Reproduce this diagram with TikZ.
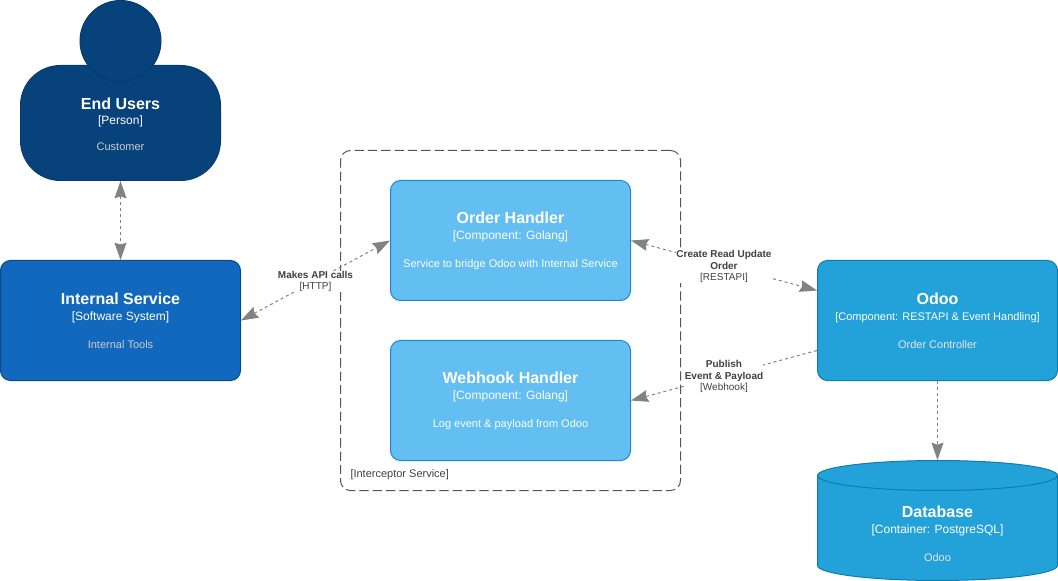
\documentclass[tikz,border=0pt]{standalone}
\usepackage{fontspec}
\setmainfont{Liberation Sans}
\usetikzlibrary{arrows.meta}
\usetikzlibrary{positioning}

\definecolor{personblue}{HTML}{08427B}
\definecolor{personline}{HTML}{073B6F}
\definecolor{systemblue}{HTML}{1168BD}
\definecolor{systemline}{HTML}{0B4884}
\definecolor{handlerblue}{HTML}{63BEF2}
\definecolor{handlerline}{HTML}{2086C9}
\definecolor{odooblue}{HTML}{23A2D9}
\definecolor{odooline}{HTML}{0E7DAD}
\definecolor{linkgray}{HTML}{828282}
\definecolor{textgray}{HTML}{404040}
\definecolor{boundarygray}{HTML}{555555}

\newcommand{\titlefont}{\fontsize{12}{12.75}\selectfont\bfseries}
\newcommand{\techfont}{\fontsize{9}{12.75}\selectfont}
\newcommand{\descfont}{\fontsize{8.25}{9}\selectfont}
\newcommand{\linkfont}{\fontsize{7.5}{8.7}\selectfont}
\newcommand{\cardbox}[4]{%
 {\titlefont\rule{0pt}{9.8pt}#1}\\[-1.2pt]
 {\techfont #2}\\[8.7pt]
 {\descfont\color{#4} #3}
}

\begin{document}
\begin{tikzpicture}[x=.75pt, y=-.75pt, line width=.75pt, text=white]
 \useasboundingbox (0,0) rectangle (1058,581);

 \tikzstyle{card} = [draw, rounded corners=7.5pt, minimum width=180pt, minimum height=90pt, inner sep=0pt, align=center, font=\techfont];
 \tikzstyle{system} = [card, fill=systemblue, draw=systemline];
 \tikzstyle{handler} = [card, fill=handlerblue, draw=handlerline];
 \tikzstyle{odoo} = [card, fill=odooblue, draw=odooline];
 \tikzstyle{link} = [draw=linkgray, dash pattern=on 2.25pt off 2.25pt, >={Stealth[length=13pt, width=9pt, inset=1.5pt]}];
 \tikzstyle{label} = [fill=white, text=textgray, inner sep=0pt, align=center, font=\linkfont, yshift=-.75pt];

 % boundary goes first, the labels cut through it
 \node (boundary) at (510.5,320.5) [draw=boundarygray, dash pattern=on 7pt off 3pt, rounded corners=7.5pt, minimum width=255pt, minimum height=255pt] {};
 \node (boundarytext) at (350,475) [anchor=west, inner sep=0pt, text=textgray, font=\descfont] {[Interceptor Service]};

 \node (users) at (120.5,123) [draw=personline, fill=personblue, rounded corners=30pt, minimum width=150pt, minimum height=86.25pt, inner sep=0pt] {};
 \node (head) at (120.5,41) [circle, draw=personline, fill=personblue, minimum size=60.75pt, inner sep=0pt] {};
 \node (userstext) at (120.5,124) [align=center, inner sep=0pt, font=\techfont] {{\titlefont End Users}\\[-1.5pt]{\techfont [Person]}\\[7pt]{\descfont\color{white!80!black} Customer}};

 \node (internal) at (120.5,320.5) [system] {\cardbox{Internal Service}{[Software System]}{Internal Tools}{white!80!black}};
 \node (order) at (510.5,240.5) [handler] {\cardbox{Order Handler}{[Component: Golang]}{Service to bridge Odoo with Internal Service}{white}};
 \node (webhook) [handler, below=29.25pt of order] {\cardbox{Webhook Handler}{[Component: Golang]}{Log event \& payload from Odoo}{white}};
 \node (odoo) at (937.5,320.5) [odoo] {\cardbox{Odoo}{\fontsize{8.25}{12.75}\selectfont [Component: RESTAPI \& Event Handling]}{Order Controller}{white!90!black}};

 % the drum under the database text
 \draw [draw=odooline, fill=odooblue] (817.5,475.5) arc [x radius=120, y radius=15, start angle=180, end angle=360] -- (1057.5,565.5) arc [x radius=120, y radius=15, start angle=0, end angle=180] -- cycle;
 \draw [draw=odooline] (817.5,475.5) arc [x radius=120, y radius=15, start angle=180, end angle=0];
 \node (database) at (937.5,520.5) [minimum width=180pt, minimum height=90pt, inner sep=0pt, align=center, font=\techfont, yshift=-9.75pt] {\cardbox{Database}{[Container: PostgreSQL]}{Odoo}{white!90!black}};

 \draw [<->, link] (users) -- (internal);
 \draw [<->, link] (internal.east) -- (order.west) node [midway, label] (apitext) {\textbf{Makes API calls}\\{}[HTTP]};
 \draw [<->, link] (order.east) -- ([yshift=22.5pt]odoo.west) node [midway, label] (resttext) {\textbf{Create Read Update}\\\textbf{Order}\\{}[RESTAPI]};
 \draw [->, link] ([yshift=-22.5pt]odoo.west) -- (webhook.east) node [midway, label] (hooktext) {\textbf{Publish}\\\textbf{Event \& Payload}\\{}[Webhook]};
 \draw [->, link] (odoo) -- ([yshift=9.75pt]database.north);
\end{tikzpicture}
\end{document}
